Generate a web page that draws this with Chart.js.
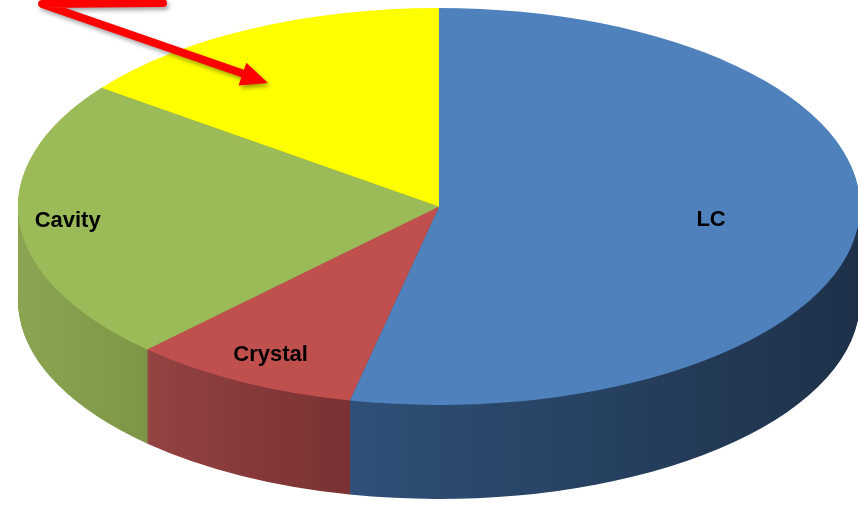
<!DOCTYPE html>
<html lang="en">
<head>
    <meta charset="UTF-8">
    <title>Pie 3D</title>
    <script src="https://cdn.jsdelivr.net/npm/chart.js@4.4.0/dist/chart.umd.min.js"></script>
    <style>
        html, body {
            margin: 0;
            padding: 0;
            background: #fff;
            overflow: hidden;
        }

        .chart-container {
            position: relative;
            width: 858px;
            height: 505px;
        }
    </style>
</head>
<body>
    <div class="chart-container">
        <canvas id="pieChart"></canvas>
    </div>

    <script>
        const categories = ['LC', 'Crystal', 'Cavity', ''];
        const shares = [53.4, 8.8, 23, 14.8];

        const topColors = ['#4f81bd', '#c0504d', '#9bbb59', '#ffff00'];
        const sideColors = [['#2f5078', '#1e3149'], ['#944242', '#7a3133'], ['#8aa452', '#7c9645'], ['#c8c800', '#b0b000']];
        const sideSpan = [[350, 858], [150, 350], [20, 150], [100, 440]];
        const labelDepth = [0.65, 0.85, 0.885, 0];

        // where the tilted top face lands on the page
        const tilt = { cx: 439, cy: 206.5, rx: 421, ry: 198.5, depth: 94 };

        function place(ctx, c, dy) {
            ctx.translate(tilt.cx, tilt.cy + dy);
            ctx.scale(tilt.rx / c.outerRadius, tilt.ry / c.outerRadius);
            ctx.translate(-c.x, -c.y);
        }

        const tiltPlugin = {
            id: 'tilt',
            beforeDatasetsDraw(chart) {
                const ctx = chart.ctx;
                const arcs = chart.getDatasetMeta(0).data;
                const c = arcs[0];
                const sx = tilt.rx / c.outerRadius;
                const fills = arcs.map((arc, i) => {
                    const x0 = c.x + (sideSpan[i][0] - tilt.cx) / sx;
                    const x1 = c.x + (sideSpan[i][1] - tilt.cx) / sx;
                    const g = ctx.createLinearGradient(x0, 0, x1, 0);
                    g.addColorStop(0, sideColors[i][0]);
                    g.addColorStop(1, sideColors[i][1]);
                    return g;
                });

                // side wall: stack copies of each slice downwards
                for (let d = tilt.depth; d >= 1; d--) {
                    ctx.save();
                    place(ctx, c, d);
                    arcs.forEach((arc, i) => {
                        const copy = Object.create(arc);
                        copy.options = Object.assign({}, arc.options, { backgroundColor: fills[i] });
                        Chart.ArcElement.prototype.draw.call(copy, ctx);
                    });
                    ctx.restore();
                }

                ctx.save();
                place(ctx, c, 0);
            },
            afterDatasetsDraw(chart) {
                const ctx = chart.ctx;
                ctx.restore();

                const arcs = chart.getDatasetMeta(0).data;
                ctx.save();
                ctx.fillStyle = '#000';
                ctx.font = 'bold 22px "Liberation Sans", Arial, sans-serif';
                ctx.textAlign = 'center';
                ctx.textBaseline = 'middle';
                arcs.forEach((arc, i) => {
                    if (!categories[i]) return;
                    const mid = (arc.startAngle + arc.endAngle) / 2;
                    const f = labelDepth[i];
                    const x = tilt.cx + Math.cos(mid) * f * tilt.rx;
                    const y = tilt.cy + Math.sin(mid) * f * tilt.ry;
                    ctx.fillText(categories[i], x, y);
                });
                ctx.restore();
            },
            afterDraw(chart) {
                // red callout pointing at the yellow slice
                const ctx = chart.ctx;
                ctx.save();
                ctx.shadowColor = 'rgba(0,0,0,0.35)';
                ctx.shadowBlur = 4;
                ctx.shadowOffsetX = 2;
                ctx.shadowOffsetY = 3;
                ctx.strokeStyle = '#ff0000';
                ctx.fillStyle = '#ff0000';
                ctx.lineWidth = 8;
                ctx.lineCap = 'round';
                ctx.lineJoin = 'round';
                ctx.beginPath();
                ctx.moveTo(163, 3);
                ctx.lineTo(42, 4);
                ctx.lineTo(250, 76);
                ctx.stroke();

                const tipX = 268, tipY = 83;
                const ang = Math.atan2(tipY - 5, tipX - 42);
                const len = 27, half = 12;
                const bx = tipX - Math.cos(ang) * len;
                const by = tipY - Math.sin(ang) * len;
                ctx.beginPath();
                ctx.moveTo(tipX, tipY);
                ctx.lineTo(bx + Math.sin(ang) * half, by - Math.cos(ang) * half);
                ctx.lineTo(bx - Math.sin(ang) * half, by + Math.cos(ang) * half);
                ctx.closePath();
                ctx.fill();
                ctx.restore();
            }
        };

        new Chart(document.getElementById('pieChart'), {
            type: 'pie',
            data: {
                labels: categories,
                datasets: [{
                    data: shares,
                    backgroundColor: topColors,
                    borderWidth: 0,
                    hoverOffset: 0,
                    clip: false
                }]
            },
            options: {
                responsive: true,
                maintainAspectRatio: false,
                animation: false,
                events: [],
                layout: { padding: 0 },
                plugins: {
                    legend: { display: false },
                    tooltip: { enabled: false }
                }
            },
            plugins: [tiltPlugin]
        });
    </script>
</body>
</html>
